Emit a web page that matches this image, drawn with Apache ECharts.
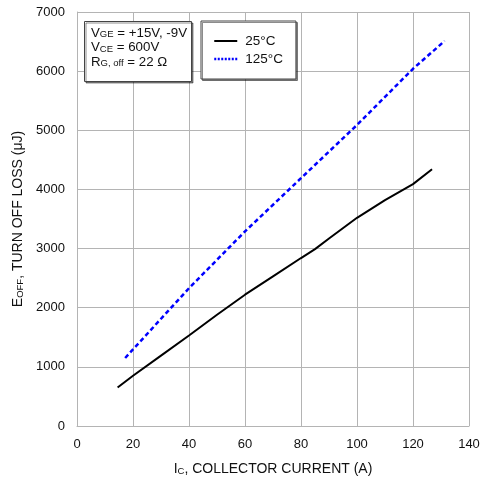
<!DOCTYPE html>
<html>
<head>
<meta charset="utf-8">
<script src="https://cdn.jsdelivr.net/npm/echarts@6/dist/echarts.min.js"></script>
<style>html,body{margin:0;padding:0;background:#fff}#c{width:487px;height:483px}</style>
</head>
<body>
<div id="c"></div>
<script>
// Data
var seriesNames = ['25°C', '125°C'];
var ic25 =   [14.5, 20, 30, 40, 50, 60, 70, 80, 85, 90, 100, 110, 120, 126.8];
var eoff25 = [650, 850, 1190, 1530, 1880, 2220, 2530, 2840, 2990, 3170, 3520, 3820, 4090, 4340];
var ic125 =   [17.2, 20, 40, 60, 80, 100, 120, 131.3];
var eoff125 = [1150, 1295, 2330, 3290, 4190, 5090, 6040, 6510];
var xTicks = [0, 20, 40, 60, 80, 100, 120, 140];
var yTicks = [0, 1000, 2000, 3000, 4000, 5000, 6000, 7000];

function pairs(xs, ys){ return xs.map(function(x,i){ return [x, ys[i]]; }); }

var font = 'Liberation Sans, Arial, sans-serif';
var gridColor = '#b4b4b4';
var chart = echarts.init(document.getElementById('c'), null, {renderer:'canvas'});
chart.setOption({
  animation: false,
  backgroundColor: '#fff',
  grid: {left: 77, right: 18, top: 12, bottom: 57, show: false},
  xAxis: {
    type: 'value', min: xTicks[0], max: xTicks[xTicks.length-1], interval: 20,
    name: '{m|I}{s|C}{m|, COLLECTOR CURRENT (A)}', nameLocation: 'middle', nameGap: 36,
    nameTextStyle: {rich: {
      m: {fontFamily: font, fontSize: 14, color: '#111', verticalAlign: 'bottom'},
      s: {fontFamily: font, fontSize: 9.5, color: '#111', verticalAlign: 'bottom'}
    }},
    axisLine: {show: true, lineStyle: {color: gridColor, width: 1}},
    axisTick: {show: false},
    axisLabel: {fontFamily: font, fontSize: 13, color: '#111', margin: 12,
                formatter: function(v){ return String(v); }},
    splitLine: {show: true, lineStyle: {color: gridColor, width: 1}}
  },
  yAxis: {
    type: 'value', min: yTicks[0], max: yTicks[yTicks.length-1], interval: 1000,
    name: '{m|E}{s|OFF}{m|, TURN OFF LOSS (μJ)}', nameLocation: 'middle', nameGap: 51, nameRotate: 90,
    nameTextStyle: {rich: {
      m: {fontFamily: font, fontSize: 14, color: '#111', verticalAlign: 'bottom'},
      s: {fontFamily: font, fontSize: 9.5, color: '#111', verticalAlign: 'bottom'}
    }},
    axisLine: {show: true, lineStyle: {color: gridColor, width: 1}},
    axisTick: {show: false},
    axisLabel: {fontFamily: font, fontSize: 13, color: '#111', margin: 12,
                formatter: function(v){ return String(v); }},
    splitLine: {show: true, lineStyle: {color: gridColor, width: 1}}
  },
  legend: {
    orient: 'vertical', left: 201, top: 21,
    padding: [13, 13, 13, 12], itemGap: 4,
    itemWidth: 23, itemHeight: 14,
    backgroundColor: '#fff', borderColor: '#444', borderWidth: 1,
    shadowColor: 'rgba(0,0,0,0.45)', shadowOffsetX: 1.5, shadowOffsetY: 1.5, shadowBlur: 0,
    textStyle: {fontFamily: font, fontSize: 13.5, color: '#111', padding: [0,0,0,3]},
    data: [
      {name: seriesNames[0], itemStyle: {color: 'rgba(0,0,0,0)', borderWidth: 0},
       lineStyle: {color: '#000', width: 2, type: 'solid'}},
      {name: seriesNames[1], itemStyle: {color: 'rgba(0,0,0,0)', borderWidth: 0},
       lineStyle: {color: '#0000ff', width: 2.5, type: [2, 1.5]}}
    ]
  },
  graphic: [
    {type: 'rect', left: 84, top: 21, shape: {width: 107, height: 60},
     style: {fill: '#fff', stroke: '#444', lineWidth: 1, shadowColor: 'rgba(0,0,0,0.45)', shadowOffsetX: 1.5, shadowOffsetY: 1.5}, z: 10},
    {type: 'text', left: 91, top: 26.5, z: 11,
     style: {
       text: '{m|V}{s|GE}{m| = +15V, -9V}\n{m|V}{s|CE}{m| = 600V}\n{m|R}{s|G, off}{m| = 22 Ω}',
       rich: {
         m: {fontFamily: font, fontSize: 13.3, fill: '#111', lineHeight: 14.5, verticalAlign: 'bottom'},
         s: {fontFamily: font, fontSize: 9.5, fill: '#111', lineHeight: 14.5, verticalAlign: 'bottom'}
       }
     }}
  ],
  series: [
    {name: seriesNames[0], type: 'line', data: pairs(ic25, eoff25), showSymbol: false, symbol: 'none',
     lineStyle: {color: '#000', width: 2}, itemStyle: {color: '#000'}, z: 3},
    {name: seriesNames[1], type: 'line', data: pairs(ic125, eoff125), showSymbol: false, symbol: 'none',
     lineStyle: {color: '#0000ff', width: 2.5, type: [4.5, 3]}, itemStyle: {color: '#0000ff'}, z: 3}
  ]
});
</script>
</body>
</html>
